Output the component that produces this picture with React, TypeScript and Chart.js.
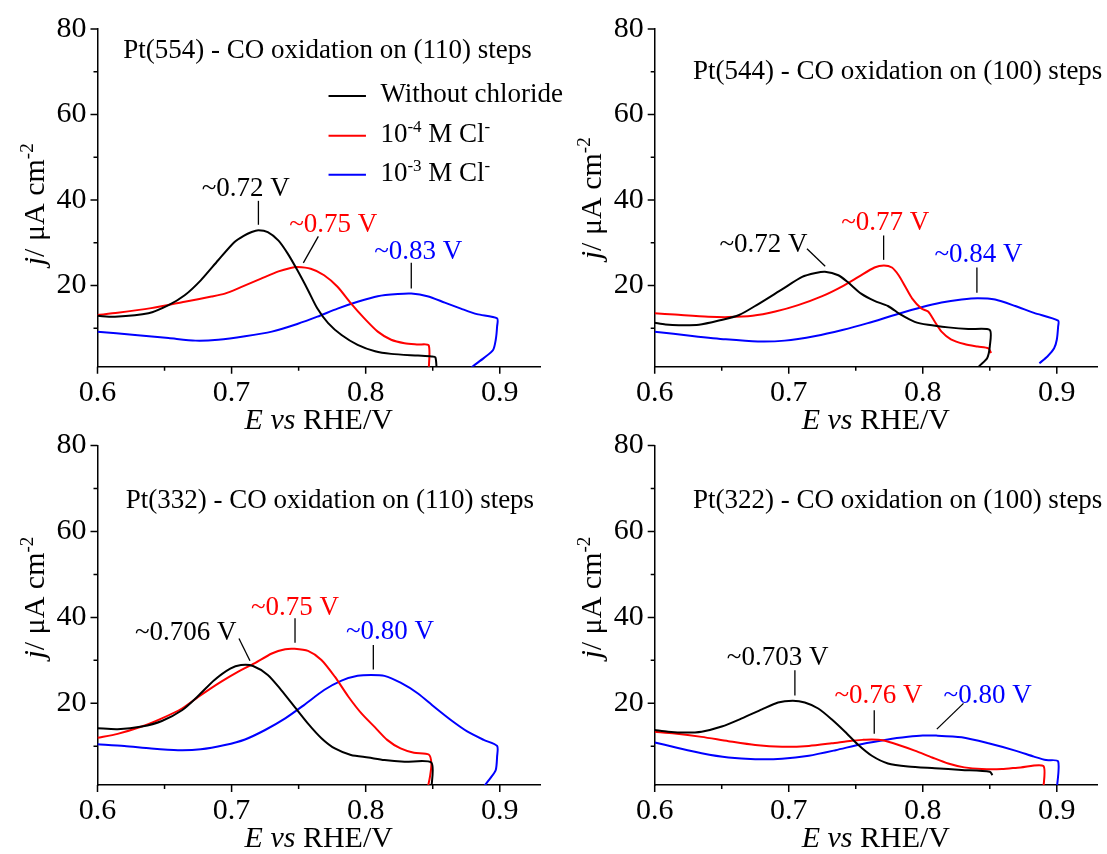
import React, { useEffect, useRef } from 'react';
import { Chart, registerables } from 'chart.js';

Chart.register(...registerables);

const SERIF = "'Liberation Serif', 'Times New Roman', Times, serif";
const PAGE_W = 1107;
const PAGE_H = 854;
const Y_AXIS_W = 60;
const X_AXIS_H = 40;

type Pt = [number, number];

// CO stripping voltammograms: [E / V vs RHE, j / µA cm^-2]
// Pt(554)
const pt554NoCl: Pt[] = [[0.600, 12.9], [0.613, 12.7], [0.638, 13.5], [0.653, 15.4], [0.665, 17.7], [0.677, 21.2], [0.690, 25.9], [0.702, 30.1], [0.709, 31.6], [0.715, 32.5], [0.720, 32.9], [0.727, 32.5], [0.735, 30.5], [0.742, 27.4], [0.749, 23.6], [0.757, 18.9], [0.764, 14.6], [0.772, 11.2], [0.782, 8.4], [0.794, 6.1], [0.807, 4.6], [0.819, 4.0], [0.839, 3.6], [0.849, 3.4], [0.852, 3.2], [0.853, 0]];
const pt554Cl4: Pt[] = [[0.600, 13.1], [0.615, 13.6], [0.640, 14.7], [0.665, 16.2], [0.685, 17.4], [0.695, 18.1], [0.707, 19.6], [0.722, 21.6], [0.735, 23.3], [0.744, 24.1], [0.749, 24.3], [0.759, 23.9], [0.769, 22.4], [0.779, 19.7], [0.789, 15.8], [0.799, 12.3], [0.809, 9.2], [0.819, 7.3], [0.829, 6.5], [0.839, 6.2], [0.847, 6.0], [0.847, 0]];
const pt554Cl3: Pt[] = [[0.600, 9.2], [0.628, 8.4], [0.653, 7.7], [0.673, 7.1], [0.690, 7.3], [0.710, 8.1], [0.730, 9.2], [0.749, 11.0], [0.764, 12.7], [0.779, 14.6], [0.794, 16.2], [0.809, 17.5], [0.824, 18.0], [0.834, 18.1], [0.846, 17.5], [0.859, 16.0], [0.871, 14.6], [0.883, 13.3], [0.898, 12.3], [0.898, 10.4], [0.897, 7.3], [0.895, 4.9], [0.888, 3.0], [0.880, 1.1], [0.876, 0]];

// Pt(544)
const pt544NoCl: Pt[] = [[0.600, 11.3], [0.608, 10.9], [0.618, 10.7], [0.633, 10.8], [0.648, 11.8], [0.663, 13.1], [0.677, 15.6], [0.695, 19.1], [0.710, 22.0], [0.720, 22.9], [0.727, 23.2], [0.737, 22.4], [0.744, 20.8], [0.754, 18.1], [0.764, 16.4], [0.774, 15.2], [0.784, 13.1], [0.794, 11.5], [0.804, 10.8], [0.819, 10.2], [0.834, 9.8], [0.850, 9.6], [0.850, 5.7], [0.848, 3.0], [0.842, 1.1], [0.840, 0]];
const pt544Cl4: Pt[] = [[0.600, 13.5], [0.615, 13.2], [0.640, 12.7], [0.655, 12.6], [0.673, 12.9], [0.690, 13.9], [0.707, 15.4], [0.725, 17.5], [0.740, 19.8], [0.752, 22.0], [0.764, 24.2], [0.771, 24.7], [0.777, 24.2], [0.782, 22.4], [0.787, 19.7], [0.792, 17.0], [0.799, 14.6], [0.804, 13.9], [0.809, 11.5], [0.814, 9.2], [0.821, 7.4], [0.831, 6.3], [0.841, 5.7], [0.849, 5.3], [0.851, 4.2]];
const pt544Cl3: Pt[] = [[0.600, 9.2], [0.628, 8.2], [0.653, 7.4], [0.677, 6.9], [0.697, 7.1], [0.720, 8.2], [0.740, 9.6], [0.759, 11.2], [0.779, 13.1], [0.799, 14.9], [0.814, 16.0], [0.829, 16.7], [0.841, 17.0], [0.854, 16.7], [0.869, 15.2], [0.883, 13.6], [0.901, 11.8], [0.901, 10.4], [0.900, 7.3], [0.898, 5.3], [0.893, 3.4], [0.887, 1.8]];

// Pt(332)
const pt332NoCl: Pt[] = [[0.600, 14.2], [0.615, 14.0], [0.633, 14.6], [0.648, 15.9], [0.663, 18.4], [0.675, 21.7], [0.687, 25.4], [0.699, 28.1], [0.707, 28.9], [0.716, 28.7], [0.727, 26.6], [0.737, 23.1], [0.747, 19.2], [0.757, 15.3], [0.767, 11.9], [0.777, 9.5], [0.789, 8.0], [0.802, 7.4], [0.814, 6.8], [0.829, 6.4], [0.849, 6.2], [0.849, 0]];
const pt332Cl4: Pt[] = [[0.600, 12.0], [0.615, 12.9], [0.633, 14.6], [0.648, 16.5], [0.663, 18.8], [0.677, 21.9], [0.692, 25.0], [0.705, 27.4], [0.717, 29.3], [0.730, 31.6], [0.740, 32.6], [0.747, 32.7], [0.757, 32.2], [0.767, 30.1], [0.777, 26.2], [0.787, 21.6], [0.797, 17.6], [0.807, 14.4], [0.816, 11.5], [0.826, 9.5], [0.836, 8.5], [0.847, 8.1], [0.849, 6.0], [0.848, 3.0], [0.846, 0]];
const pt332Cl3: Pt[] = [[0.600, 10.5], [0.620, 10.1], [0.640, 9.5], [0.660, 9.1], [0.677, 9.3], [0.695, 10.3], [0.710, 11.6], [0.725, 13.8], [0.740, 16.5], [0.754, 19.6], [0.769, 23.1], [0.782, 25.3], [0.794, 26.4], [0.804, 26.6], [0.814, 26.4], [0.826, 24.8], [0.839, 22.3], [0.851, 19.2], [0.864, 16.0], [0.876, 13.4], [0.888, 11.5], [0.898, 10.1], [0.898, 7.6], [0.897, 4.5], [0.893, 2.6], [0.888, 0.6]];

// Pt(322)
const pt322NoCl: Pt[] = [[0.600, 13.8], [0.610, 13.4], [0.623, 13.2], [0.635, 13.4], [0.650, 14.6], [0.665, 16.5], [0.680, 18.6], [0.692, 20.2], [0.703, 20.6], [0.712, 20.2], [0.722, 18.8], [0.732, 16.3], [0.742, 13.4], [0.752, 10.3], [0.762, 7.8], [0.774, 6.0], [0.789, 5.3], [0.809, 4.9], [0.829, 4.5], [0.850, 4.1], [0.852, 3.3]];
const pt322Cl4: Pt[] = [[0.600, 13.4], [0.615, 13.0], [0.635, 12.2], [0.655, 11.2], [0.675, 10.3], [0.695, 9.9], [0.715, 10.1], [0.732, 10.7], [0.747, 11.3], [0.755, 11.5], [0.762, 11.6], [0.770, 11.4], [0.782, 10.3], [0.794, 9.0], [0.807, 7.4], [0.819, 6.0], [0.831, 5.1], [0.844, 4.7], [0.859, 4.7], [0.873, 5.1], [0.890, 5.4], [0.890, 0]];
const pt322Cl3: Pt[] = [[0.600, 10.9], [0.615, 9.8], [0.635, 8.4], [0.655, 7.4], [0.675, 7.0], [0.695, 7.1], [0.715, 7.8], [0.735, 9.1], [0.754, 10.5], [0.774, 11.6], [0.789, 12.2], [0.800, 12.5], [0.810, 12.5], [0.829, 12.1], [0.849, 10.7], [0.869, 9.0], [0.883, 7.6], [0.892, 6.8], [0.901, 6.5], [0.900, 0]];

const seriesColors = ['#000000', '#ff0000', '#0000ff'];

type Run = { t: string; italic?: boolean; sup?: boolean };
const seriesLabels: Run[][] = [
  [{ t: 'Without chloride' }],
  [{ t: '10' }, { t: '-4', sup: true }, { t: ' M Cl' }, { t: '-', sup: true }],
  [{ t: '10' }, { t: '-3', sup: true }, { t: ' M Cl' }, { t: '-', sup: true }],
];

const xRange: Pt = [0.6, 0.93];
const yRange: Pt = [1, 80];
const xMajorTicks = [0.6, 0.7, 0.8, 0.9];
const xMinorTicks = [0.65, 0.75, 0.85];
const yMajorTicks = [20, 40, 60, 80];
const yMinorTicks = [10, 30, 50, 70];

const xTitle: Run[] = [{ t: 'E', italic: true }, { t: ' ' }, { t: 'vs', italic: true }, { t: ' RHE/V' }];
const yTitle: Run[] = [{ t: 'j', italic: true }, { t: '/ \u03bcA cm' }, { t: '-2', sup: true }];

type Peak = { s: number; text: string; at: Pt; line: [Pt, Pt] };
type Panel = {
  box: { left: number; top: number; right: number; bottom: number };
  title: string;
  titleAt: Pt;
  yTitleAt: number;
  data: Pt[][];
  legend?: { x0: number; x1: number; textX: number; rows: number[] };
  peaks: Peak[];
};

const panels: Panel[] = [
  {
    box: { left: 97.5, top: 27.3, right: 540, bottom: 366.7 },
    title: 'Pt(554) - CO oxidation on (110) steps',
    titleAt: [0.6192, 73.3],
    yTitleAt: 39.0,
    data: [pt554NoCl, pt554Cl4, pt554Cl3],
    legend: { x0: 0.7723, x1: 0.8002, textX: 0.811, rows: [64.3, 55.0, 45.9] },
    peaks: [
      { s: 0, text: '~0.72 V', at: [0.7106, 41.0], line: [[0.72, 39.8], [0.72, 34.2]] },
      { s: 1, text: '~0.75 V', at: [0.7758, 32.5], line: [[0.7647, 31.5], [0.7535, 25.3]] },
      { s: 2, text: '~0.83 V', at: [0.8392, 26.3], line: [[0.834, 25.3], [0.834, 19.3]] },
    ],
  },
  {
    box: { left: 654.7, top: 27.3, right: 1097, bottom: 366.7 },
    title: 'Pt(544) - CO oxidation on (100) steps',
    titleAt: [0.6285, 68.4],
    yTitleAt: 40.4,
    data: [pt544NoCl, pt544Cl4, pt544Cl3],
    peaks: [
      { s: 0, text: '~0.72 V', at: [0.6812, 27.8], line: [[0.7136, 28.6], [0.7272, 24.5]] },
      { s: 1, text: '~0.77 V', at: [0.772, 32.9], line: [[0.7708, 31.7], [0.7708, 26.0]] },
      { s: 2, text: '~0.84 V', at: [0.8416, 25.5], line: [[0.8404, 24.2], [0.8404, 18.3]] },
    ],
  },
  {
    box: { left: 97.5, top: 445.5, right: 540, bottom: 785 },
    title: 'Pt(332) - CO oxidation on (110) steps',
    titleAt: [0.621, 65.4],
    yTitleAt: 44.6,
    data: [pt332NoCl, pt332Cl4, pt332Cl3],
    peaks: [
      { s: 0, text: '~0.706 V', at: [0.6658, 34.7], line: [[0.7055, 35.1], [0.7137, 29.9]] },
      { s: 1, text: '~0.75 V', at: [0.7473, 40.5], line: [[0.7473, 39.8], [0.7473, 34.1]] },
      { s: 2, text: '~0.80 V', at: [0.8181, 34.9], line: [[0.8057, 33.6], [0.8057, 27.9]] },
    ],
  },
  {
    box: { left: 654.7, top: 445.5, right: 1097, bottom: 785 },
    title: 'Pt(322) - CO oxidation on (100) steps',
    titleAt: [0.6285, 65.4],
    yTitleAt: 44.6,
    data: [pt322NoCl, pt322Cl4, pt322Cl3],
    peaks: [
      { s: 0, text: '~0.703 V', at: [0.6917, 28.9], line: [[0.7046, 27.7], [0.7046, 21.8]] },
      { s: 1, text: '~0.76 V', at: [0.767, 20.0], line: [[0.7638, 18.4], [0.7638, 12.9]] },
      { s: 2, text: '~0.80 V', at: [0.8484, 20.1], line: [[0.8304, 20.0], [0.8105, 14.0]] },
    ],
  },
];

const TICK_FONT = 30;
const AXIS_TITLE_FONT = 30;
const TEXT_FONT = 27;

function runFont(r: Run, size: number) {
  const s = r.sup ? Math.round(size * 0.63) : size;
  return `${r.italic ? 'italic ' : ''}${s}px ${SERIF}`;
}

function runsWidth(ctx: CanvasRenderingContext2D, runs: Run[], size: number) {
  let w = 0;
  for (const r of runs) {
    ctx.font = runFont(r, size);
    w += ctx.measureText(r.t).width;
  }
  return w;
}

function drawRuns(
  ctx: CanvasRenderingContext2D,
  runs: Run[],
  x: number,
  y: number,
  size: number,
  color: string,
  align: 'left' | 'center',
) {
  let cx = align === 'center' ? x - runsWidth(ctx, runs, size) / 2 : x;
  ctx.fillStyle = color;
  ctx.textAlign = 'left';
  ctx.textBaseline = 'alphabetic';
  for (const r of runs) {
    ctx.font = runFont(r, size);
    ctx.fillText(r.t, cx, y - (r.sup ? size * 0.36 : 0));
    cx += ctx.measureText(r.t).width;
  }
}

function decorations(panel: Panel) {
  return {
    id: 'panelDecorations',
    afterDraw(chart: Chart) {
      const { ctx, chartArea } = chart;
      const xs = chart.scales.x;
      const ys = chart.scales.y;
      const px = (v: number) => xs.getPixelForValue(v);
      const py = (v: number) => ys.getPixelForValue(v);
      ctx.save();

      // outward tick marks
      ctx.strokeStyle = '#000';
      ctx.lineWidth = 1.5;
      ctx.beginPath();
      for (const v of xMajorTicks) { ctx.moveTo(px(v), chartArea.bottom); ctx.lineTo(px(v), chartArea.bottom + 7); }
      for (const v of xMinorTicks) { ctx.moveTo(px(v), chartArea.bottom); ctx.lineTo(px(v), chartArea.bottom + 4); }
      for (const v of yMajorTicks) { ctx.moveTo(chartArea.left, py(v)); ctx.lineTo(chartArea.left - 7, py(v)); }
      for (const v of yMinorTicks) { ctx.moveTo(chartArea.left, py(v)); ctx.lineTo(chartArea.left - 4, py(v)); }
      ctx.stroke();

      // axis titles
      drawRuns(ctx, xTitle, (chartArea.left + chartArea.right) / 2, chartArea.bottom + 62, AXIS_TITLE_FONT, '#000', 'center');
      ctx.save();
      ctx.translate(chartArea.left - 64, py(panel.yTitleAt));
      ctx.rotate(-Math.PI / 2);
      drawRuns(ctx, yTitle, 0, 10, AXIS_TITLE_FONT, '#000', 'center');
      ctx.restore();

      // panel title
      drawRuns(ctx, [{ t: panel.title }], px(panel.titleAt[0]), py(panel.titleAt[1]), TEXT_FONT, '#000', 'left');

      // legend
      if (panel.legend) {
        const lg = panel.legend;
        lg.rows.forEach((row, i) => {
          ctx.strokeStyle = seriesColors[i];
          ctx.lineWidth = 2;
          ctx.beginPath();
          ctx.moveTo(px(lg.x0), py(row));
          ctx.lineTo(px(lg.x1), py(row));
          ctx.stroke();
          drawRuns(ctx, seriesLabels[i], px(lg.textX), py(row) + 6, TEXT_FONT, '#000', 'left');
        });
      }

      // peak potential labels with leader lines
      for (const p of panel.peaks) {
        drawRuns(ctx, [{ t: p.text }], px(p.at[0]), py(p.at[1]), TEXT_FONT, seriesColors[p.s], 'center');
        ctx.strokeStyle = '#000';
        ctx.lineWidth = 1.3;
        ctx.beginPath();
        ctx.moveTo(px(p.line[0][0]), py(p.line[0][1]));
        ctx.lineTo(px(p.line[1][0]), py(p.line[1][1]));
        ctx.stroke();
      }
      ctx.restore();
    },
  };
}

function PanelChart({ panel }: { panel: Panel }) {
  const ref = useRef<HTMLCanvasElement | null>(null);
  useEffect(() => {
    const canvas = ref.current;
    if (!canvas) return;
    const b = panel.box;
    const chart = new Chart(canvas, {
      type: 'line',
      data: {
        datasets: panel.data.map((pts, i) => ({
          data: pts.map(([x, y]) => ({ x, y })),
          borderColor: seriesColors[i],
          backgroundColor: seriesColors[i],
          borderWidth: 2,
          pointRadius: 0,
          tension: 0.25,
          fill: false,
        })),
      },
      options: {
        responsive: false,
        animation: false,
        events: [],
        layout: {
          padding: {
            left: b.left - Y_AXIS_W,
            top: b.top,
            right: PAGE_W - b.right,
            bottom: PAGE_H - b.bottom - X_AXIS_H,
          },
        },
        plugins: { legend: { display: false }, tooltip: { enabled: false }, title: { display: false } },
        scales: {
          x: {
            type: 'linear',
            min: xRange[0],
            max: xRange[1],
            grid: { display: false, drawTicks: false },
            border: { display: true, color: '#000', width: 1.5 },
            ticks: {
              color: '#000',
              padding: 8,
              font: { family: SERIF, size: TICK_FONT },
              maxRotation: 0,
              callback: (v: any) => Number(v).toFixed(1),
            },
            afterBuildTicks: (s: any) => { s.ticks = xMajorTicks.map((value) => ({ value })); },
            afterFit: (s: any) => { s.height = X_AXIS_H; },
          },
          y: {
            type: 'linear',
            min: yRange[0],
            max: yRange[1],
            grid: { display: false, drawTicks: false },
            border: { display: true, color: '#000', width: 1.5 },
            ticks: {
              color: '#000',
              padding: 11,
              font: { family: SERIF, size: TICK_FONT },
              callback: (v: any) => String(v),
            },
            afterBuildTicks: (s: any) => { s.ticks = yMajorTicks.map((value) => ({ value })); },
            afterFit: (s: any) => { s.width = Y_AXIS_W; },
          },
        },
      },
      plugins: [decorations(panel)],
    } as any);
    return () => chart.destroy();
  }, [panel]);
  return (
    <canvas
      ref={ref}
      width={PAGE_W}
      height={PAGE_H}
      style={{ position: 'absolute', left: 0, top: 0, width: PAGE_W, height: PAGE_H }}
    />
  );
}

export default function App() {
  return (
    <div style={{ position: 'absolute', left: 0, top: 0, width: PAGE_W, height: PAGE_H, background: '#fff', overflow: 'hidden' }}>
      {panels.map((p, i) => (
        <PanelChart key={i} panel={p} />
      ))}
    </div>
  );
}
